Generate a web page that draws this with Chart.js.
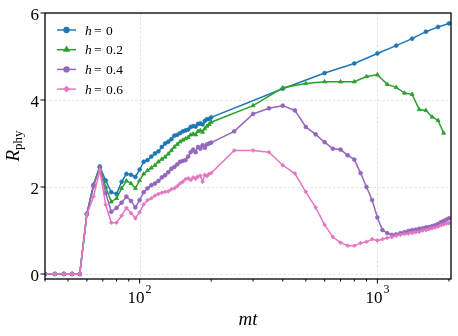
<!DOCTYPE html>
<html>
<head>
<meta charset="utf-8">
<script src="https://cdn.jsdelivr.net/npm/chart.js@4.4.0/dist/chart.umd.min.js"></script>
<style>
  html, body { margin: 0; padding: 0; background: #fff; }
  canvas { display: block; }
</style>
</head>
<body>
<canvas id="rphyChart" width="458" height="336"></canvas>
<script>
// mt values of the densely sampled part (shared by all four curves)
const mtDense = [40, 44, 48, 52, 56, 60, 64, 68, 72, 76, 80, 84, 88, 92, 96,
    100, 104, 108, 112, 116, 120, 124, 128, 132, 136, 140, 144, 148, 152, 156,
    160, 164, 168, 172, 176, 180, 184, 188, 192, 196, 200];

const h0Dense = [0, 0, 0, 0, 0, 1.38, 2.05, 2.47, 2.15, 1.88, 1.84, 2.12, 2.30, 2.28, 2.23,
    2.40, 2.58, 2.62, 2.70, 2.77, 2.82, 2.92, 3.00, 3.04, 3.10, 3.18, 3.20, 3.24, 3.28, 3.30,
    3.32, 3.38, 3.40, 3.39, 3.45, 3.46, 3.44, 3.52, 3.56, 3.56, 3.60];
const h02Dense = [0, 0, 0, 0, 0, 1.38, 2.05, 2.47, 2.00, 1.66, 1.74, 1.97, 2.14, 2.08, 1.97,
    2.15, 2.30, 2.38, 2.44, 2.50, 2.58, 2.64, 2.69, 2.76, 2.84, 2.92, 2.98, 3.04, 3.08, 3.11,
    3.14, 3.20, 3.22, 3.20, 3.28, 3.30, 3.26, 3.34, 3.40, 3.44, 3.49];
const h04Dense = [0, 0, 0, 0, 0, 1.38, 2.02, 2.45, 1.86, 1.43, 1.52, 1.64, 1.78, 1.68, 1.53,
    1.70, 1.88, 1.97, 2.04, 2.08, 2.14, 2.22, 2.27, 2.34, 2.42, 2.46, 2.52, 2.58, 2.60, 2.62,
    2.70, 2.80, 2.86, 2.80, 2.92, 2.88, 2.96, 2.90, 2.98, 3.00, 3.02];
const h06Dense = [0, 0, 0, 0, 0, 1.36, 1.78, 2.38, 1.59, 1.18, 1.18, 1.34, 1.52, 1.40, 1.28,
    1.42, 1.60, 1.70, 1.74, 1.80, 1.84, 1.87, 1.89, 1.90, 1.95, 1.97, 2.02, 2.08, 2.12, 2.18,
    2.20, 2.16, 2.22, 2.19, 2.24, 2.26, 2.12, 2.28, 2.25, 2.30, 2.32];

// sparse tails
const mtTailH0 = [400, 600, 800, 1000, 1200, 1400, 1600, 1800, 2000];
const h0Tail = [4.26, 4.62, 4.84, 5.07, 5.25, 5.41, 5.57, 5.68, 5.76];

const mtTailH02 = [300, 400, 500, 600, 700, 800, 900, 1000, 1100, 1200, 1300, 1400,
    1500, 1600, 1700, 1800, 1900];
const h02Tail = [3.87, 4.28, 4.38, 4.42, 4.42, 4.42, 4.54, 4.58, 4.36, 4.29, 4.16, 4.13,
    3.78, 3.76, 3.61, 3.53, 3.24];

const mtTailWide = [250, 300, 350, 400, 450, 500, 550, 600, 650, 700, 750, 800, 850, 900,
    950, 1000, 1050, 1100, 1150, 1200, 1250, 1300, 1350, 1400, 1450, 1500, 1550, 1600,
    1650, 1700, 1750, 1800, 1850, 1900, 1950, 2000];
const h04Tail = [3.28, 3.68, 3.81, 3.87, 3.76, 3.38, 3.21, 3.03, 2.88, 2.86, 2.73, 2.63, 2.32, 2.00,
    1.70, 1.30, 1.01, 0.94, 0.90, 0.91, 0.94, 0.96, 0.99, 1.01, 1.02, 1.04, 1.05, 1.07,
    1.08, 1.10, 1.12, 1.15, 1.19, 1.22, 1.25, 1.28];
const h06Tail = [2.84, 2.84, 2.80, 2.50, 2.31, 1.89, 1.53, 1.13, 0.85, 0.72, 0.65, 0.65, 0.71, 0.74,
    0.80, 0.77, 0.80, 0.83, 0.85, 0.88, 0.90, 0.92, 0.93, 0.94, 0.96, 0.97, 1.00, 1.01,
    1.03, 1.05, 1.07, 1.09, 1.12, 1.14, 1.16, 1.17];

const hLabels = ['0', '0.2', '0.4', '0.6'];
const seriesColors = ['#1f77b4', '#2ca02c', '#9467bd', '#e377c2'];
const seriesMarkers = ['circle', 'triangle', 'circle', 'rectRot'];

const xMajorTicks = [100, 1000];
const xMajorExp = ['2', '3'];
const xMinorTicks = [40, 50, 60, 70, 80, 90, 200, 300, 400, 500, 600, 700, 800, 900, 2000];
const yTicks = [0, 2, 4, 6];

const SERIF = '"Liberation Serif", "Times New Roman", serif';

function toPoints(xs, ys) {
    return xs.map((x, i) => ({ x: x, y: ys[i] }));
}

const seriesData = [
    toPoints(mtDense.concat(mtTailH0), h0Dense.concat(h0Tail)),
    toPoints(mtDense.concat(mtTailH02), h02Dense.concat(h02Tail)),
    toPoints(mtDense.concat(mtTailWide), h04Dense.concat(h04Tail)),
    toPoints(mtDense.concat(mtTailWide), h06Dense.concat(h06Tail))
];

function seg(ctx, x0, y0, x1, y1) {
    ctx.beginPath();
    ctx.moveTo(x0, y0);
    ctx.lineTo(x1, y1);
    ctx.stroke();
}

const decorPlugin = {
    id: 'decor',
    beforeDatasetsDraw(chart) {
        const { ctx, chartArea: a, scales } = chart;
        ctx.save();
        ctx.strokeStyle = '#dcdcdc';
        ctx.lineWidth = 0.8;
        ctx.setLineDash([2.5, 2]);
        xMajorTicks.forEach(v => {
            const px = Math.round(scales.x.getPixelForValue(v)) + 0.5;
            seg(ctx, px, a.top, px, a.bottom);
        });
        yTicks.forEach(v => {
            const py = Math.round(scales.y.getPixelForValue(v)) + 0.5;
            seg(ctx, a.left, py, a.right, py);
        });
        ctx.restore();
    },
    afterDraw(chart) {
        const { ctx, chartArea: a, scales } = chart;
        ctx.save();

        // frame
        ctx.strokeStyle = '#000';
        ctx.lineWidth = 1.3;
        ctx.strokeRect(a.left, a.top, a.right - a.left, a.bottom - a.top);

        // tick marks
        ctx.lineWidth = 1;
        xMajorTicks.forEach(v => {
            const px = scales.x.getPixelForValue(v);
            seg(ctx, px, a.bottom, px, a.bottom + 4.5);
        });
        xMinorTicks.forEach(v => {
            const px = scales.x.getPixelForValue(v);
            seg(ctx, px, a.bottom, px, a.bottom + 2.5);
        });
        yTicks.forEach(v => {
            const py = scales.y.getPixelForValue(v);
            seg(ctx, a.left - 4.5, py, a.left, py);
        });

        // tick labels
        ctx.fillStyle = '#000';
        ctx.textBaseline = 'alphabetic';
        ctx.textAlign = 'right';
        ctx.font = '17px ' + SERIF;
        yTicks.forEach(v => {
            const py = scales.y.getPixelForValue(v);
            ctx.fillText(String(v), a.left - 6, py + 7);
        });
        ctx.textAlign = 'left';
        xMajorTicks.forEach((v, i) => {
            const px = scales.x.getPixelForValue(v);
            ctx.font = '17px ' + SERIF;
            const wb = ctx.measureText('10').width;
            ctx.font = '12px ' + SERIF;
            const we = ctx.measureText(xMajorExp[i]).width;
            const x0 = px - (wb + 1 + we) / 2;
            ctx.font = '17px ' + SERIF;
            ctx.fillText('10', x0, a.bottom + 24);
            ctx.font = '12px ' + SERIF;
            ctx.fillText(xMajorExp[i], x0 + wb + 1, a.bottom + 14);
        });

        // axis titles
        ctx.font = 'italic 19px ' + SERIF;
        ctx.textAlign = 'center';
        ctx.fillText('mt', (a.left + a.right) / 2, 325);

        ctx.save();
        ctx.translate(18.5, (a.top + a.bottom) / 2);
        ctx.rotate(-Math.PI / 2);
        ctx.textAlign = 'left';
        ctx.font = 'italic 19px ' + SERIF;
        const wR = ctx.measureText('R').width;
        ctx.font = '13px ' + SERIF;
        const wSub = ctx.measureText('phy').width;
        const start = -(wR + wSub) / 2;
        ctx.font = 'italic 19px ' + SERIF;
        ctx.fillText('R', start, 0);
        ctx.font = '13px ' + SERIF;
        ctx.fillText('phy', start + wR, 3.5);
        ctx.restore();

        // legend
        const lx0 = a.left + 12, lx1 = a.left + 31, ly0 = a.top + 17, ldy = 19.7;
        hLabels.forEach((lab, i) => {
            const yy = ly0 + i * ldy;
            ctx.strokeStyle = seriesColors[i];
            ctx.fillStyle = seriesColors[i];
            ctx.lineWidth = 1.5;
            seg(ctx, lx0, yy, lx1, yy);
            Chart.helpers.drawPoint(ctx, {
                pointStyle: seriesMarkers[i],
                radius: seriesMarkers[i] === 'triangle' ? 2.8 : 2.4,
                rotation: 0,
                borderWidth: 0.8
            }, (lx0 + lx1) / 2, yy);
            ctx.fillStyle = '#000';
            ctx.textAlign = 'left';
            ctx.font = 'italic 13.5px ' + SERIF;
            ctx.fillText('h', a.left + 40, yy + 4.5);
            ctx.font = '13.5px ' + SERIF;
            ctx.fillText('=', a.left + 49, yy + 4.5);
            ctx.fillText(lab, a.left + 61, yy + 4.5);
        });

        ctx.restore();
    }
};

new Chart(document.getElementById('rphyChart').getContext('2d'), {
    type: 'line',
    data: {
        datasets: hLabels.map((lab, i) => ({
            label: 'h=' + lab,
            data: seriesData[i],
            borderColor: seriesColors[i],
            backgroundColor: seriesColors[i],
            borderWidth: 1.5,
            pointStyle: seriesMarkers[i],
            pointRadius: seriesMarkers[i] === 'triangle' ? 2.3 : 1.9,
            pointBorderWidth: 0.8,
            pointHoverRadius: 0,
            tension: 0,
            fill: false,
            order: hLabels.length - i
        }))
    },
    options: {
        responsive: false,
        devicePixelRatio: 1,
        animation: false,
        events: [],
        layout: { padding: { top: 13, right: 7, left: 0, bottom: 0 } },
        scales: {
            x: {
                type: 'logarithmic',
                min: 40,
                max: 2040,
                grid: { display: false },
                border: { display: false },
                ticks: { display: false },
                afterFit(scale) { scale.height = 57; }
            },
            y: {
                type: 'linear',
                min: -0.115,
                max: 6,
                grid: { display: false },
                border: { display: false },
                ticks: { display: false },
                afterFit(scale) { scale.width = 45; }
            }
        },
        plugins: {
            legend: { display: false },
            tooltip: { enabled: false }
        }
    },
    plugins: [decorPlugin]
});
</script>
</body>
</html>
